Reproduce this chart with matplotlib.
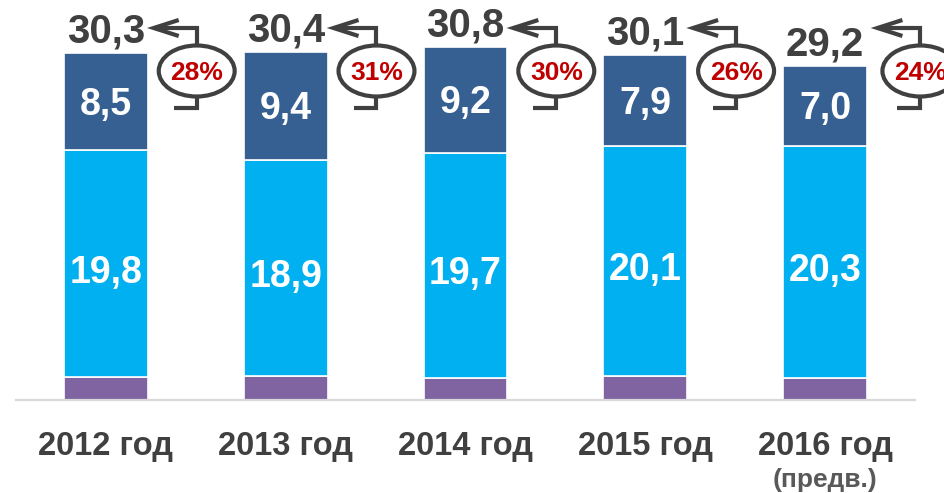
import matplotlib
matplotlib.use("Agg")
import matplotlib.pyplot as plt
from matplotlib.patches import Ellipse

years = ["2012 год", "2013 год", "2014 год", "2015 год", "2016 год"]
note_2016 = "(предв.)"
bottom_vals = [2.0, 2.1, 1.9, 2.1, 1.9]
middle_vals = [19.8, 18.9, 19.7, 20.1, 20.3]
top_vals = [8.5, 9.4, 9.2, 7.9, 7.0]
totals = [30.3, 30.4, 30.8, 30.1, 29.2]
shares = ["28%", "31%", "30%", "26%", "24%"]

C_PURPLE = "#8064A2"
C_CYAN = "#00B0F0"
C_BLUE = "#376092"
C_TEXT = "#404040"
C_RED = "#C00000"

plt.rcParams['font.family'] = ['Liberation Sans', 'DejaVu Sans']

W, H = 945, 493
fig = plt.figure(figsize=(W / 100, H / 100), dpi=100)
ax = fig.add_axes([16 / W, 93 / H, 899 / W, 400 / H])
ppu = 11.45
ax.set_xlim(-0.5, 4.5)
ax.set_ylim(0, 400 / ppu)

x = list(range(len(years)))
bw = 84 / 180
ax.bar(x, bottom_vals, width=bw, color=C_PURPLE, edgecolor="white", linewidth=1.2)
b2 = bottom_vals
ax.bar(x, middle_vals, width=bw, bottom=b2, color=C_CYAN, edgecolor="white", linewidth=1.2)
b3 = [a + b for a, b in zip(bottom_vals, middle_vals)]
ax.bar(x, top_vals, width=bw, bottom=b3, color=C_BLUE, edgecolor="white", linewidth=1.2)

def fmt(v):
    return f"{v:.1f}".replace(".", ",")

for i in x:
    # inner labels
    for base, val, dy in ((b2[i], middle_vals[i], -4.0), (b3[i], top_vals[i], 0.0)):
        ax.annotate(fmt(val), xy=(i, base + val / 2), xytext=(0, -9.6 + dy),
                    textcoords="offset points", ha="center", va="baseline",
                    fontsize=27, fontweight="bold", color="white")
    ax.annotate(fmt(totals[i]), xy=(i, b3[i] + top_vals[i]), xytext=(0, 7.5),
                textcoords="offset points", ha="center", va="baseline",
                fontsize=29, fontweight="bold", color=C_TEXT)
    # year labels
    ax.annotate(years[i], xy=(i, 0), xycoords=("data", "axes fraction"),
                xytext=(0, -55 * 0.72), textcoords="offset points",
                ha="center", va="baseline", fontsize=23.5, fontweight="bold",
                color=C_TEXT, annotation_clip=False)

ax.annotate(note_2016, xy=(4, 0), xycoords=("data", "axes fraction"),
            xytext=(0, -87 * 0.72), textcoords="offset points",
            ha="center", va="baseline", fontsize=19, fontweight="bold",
            color="#595959", annotation_clip=False)

# share brackets with ellipses
lw = 3.0
for i in x:
    cx = i + (0.505 if i < 4 else 0.53)
    y_arrow = (400 - 28) / ppu
    y_el = (400 - 71) / ppu
    eh = 51 / ppu
    ew = 76 / 180
    y_low = (400 - 108) / ppu
    tip = cx - 43 / 180
    # upper path
    ax.plot([tip, cx, cx], [y_arrow, y_arrow, y_el + eh / 2], color=C_TEXT,
            lw=lw, clip_on=False, solid_joinstyle="miter", solid_capstyle="butt")
    ax.plot([tip + 25 / 180, tip, tip + 25 / 180],
            [y_arrow + 8 / ppu, y_arrow, y_arrow - 8 / ppu], color=C_TEXT,
            lw=lw, clip_on=False, solid_joinstyle="miter", solid_capstyle="butt")
    # lower path
    ax.plot([cx, cx, cx - 23 / 180], [y_el - eh / 2, y_low, y_low], color=C_TEXT,
            lw=lw, clip_on=False, solid_joinstyle="miter", solid_capstyle="butt")
    e = Ellipse((cx, y_el), width=ew, height=eh, facecolor="white",
                edgecolor=C_TEXT, lw=lw, clip_on=False, zorder=3)
    ax.add_patch(e)
    ax.text(cx, y_el, shares[i], ha="center", va="center_baseline", fontsize=19,
            fontweight="bold", color=C_RED, zorder=4, clip_on=False)

for s in ("top", "left", "right"):
    ax.spines[s].set_visible(False)
ax.spines["bottom"].set_color("#D9D9D9")
ax.spines["bottom"].set_linewidth(1.6)
ax.set_xticks([])
ax.set_yticks([])

fig.savefig("out.png", dpi=100)
